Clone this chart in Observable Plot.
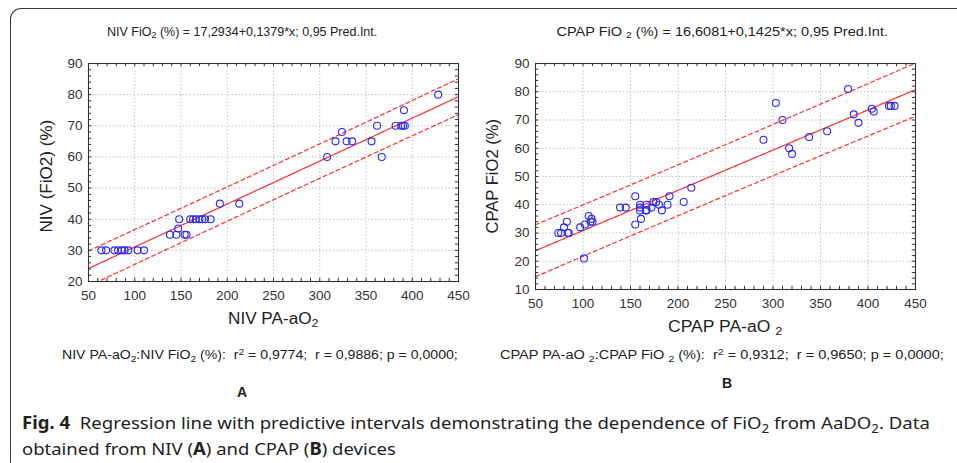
<!DOCTYPE html>
<html><head><meta charset="utf-8">
<script src="https://cdn.jsdelivr.net/npm/d3@7"></script>
<script src="https://cdn.jsdelivr.net/npm/@observablehq/plot@0.6"></script>
<style>
body{margin:0;background:#fff;overflow:hidden}
#root{position:relative;width:957px;height:463px;overflow:hidden;font-family:"Liberation Sans",Arial,sans-serif;color:#222;background:#fff}
.t{position:absolute;white-space:nowrap;left:0;top:0;transform-origin:0 0;line-height:1.15}
sub{font-size:0.72em;vertical-align:-0.3em;line-height:0}
sup{font-size:0.72em;vertical-align:0.45em;line-height:0}
#border{position:absolute;left:10px;top:8px;width:990px;height:520px;border-top:1.4px solid #3a3a3a;border-left:1.4px solid #3a3a3a;border-top-left-radius:11px}
</style></head><body><div id="root"><div id="border"></div></div>
<script>
// ---- data ----
const nivX = [64,69,78,82,86,89,93,103,110, 138,145,154,156, 147, 148,160,163,166,170,173,176,182, 192,213, 308,367, 317,329,335,356, 324, 362,382,388,390,392, 391, 428];
const nivY = [30,30,30,30,30,30,30,30,30, 35,35,35,35, 37, 40,40,40,40,40,40,40,40, 45,45, 60,60, 65,65,65,65, 68, 70,70,70,70,70, 75, 80];
const cpapX = [74,77,80,83,84,85,97,102,101,106,108,110,109, 139,145,155,155,160,160,160,161,166,167,167,172,174,177,180,183,189,191,206,214, 290,303,310,317,320,338,357,379,385,390,404,406,422,424,428];
const cpapY = [30,30,32,34,30,30,32,33,21,36,34,34,35, 39,39,43,33,40,39,38,35,38,40,38,39,41,41,40,38,40,43,41,46, 63,76,70,60,58,64,66,81,72,69,74,73,75,75,75];
const nivCoef = [17.2934, 0.1379];
const cpapCoef = [16.6081, 0.1425];
const xTicks = [50,100,150,200,250,300,350,400,450];
const nivYTicks = [20,30,40,50,60,70,80,90];
const cpapYTicks = [10,20,30,40,50,60,70,80,90];

const root = document.getElementById("root");

function tq(df){const z=1.959964;return z+(z**3+z)/(4*df)+(5*z**5+16*z**3+3*z)/(96*df*df);}

function panel({xs, ys, coef, yTicks, left, width, frame}){
  const [a,b] = coef;
  const n = xs.length, xbar = d3.mean(xs);
  const sxx = d3.sum(xs, x => (x-xbar)**2);
  const sse = d3.sum(xs, (x,i) => (ys[i]-(a+b*x))**2);
  const s = Math.sqrt(sse/(n-2)), t = tq(n-2);
  const xd = [xTicks[0], xTicks[xTicks.length-1]];
  const yd = [yTicks[0], yTicks[yTicks.length-1]];
  const fit = d3.range(xd[0], xd[1]+0.01, 2).map(x => {
    const yh = a+b*x, hw = t*s*Math.sqrt(1+1/n+(x-xbar)**2/sxx);
    return {x, y:yh, lo:yh-hw, hi:yh+hw};
  });
  const pts = xs.map((x,i)=>({x, y:ys[i]}));
  const [fx0, fy0, fx1, fy1] = frame; // frame in page px
  const ml = fx0-left, mr = left+width-fx1, mt = fy0, H = 345, mb = H-fy1;
  const ppx = (fx1-fx0)/(xd[1]-xd[0]), ppy = (fy1-fy0)/(yd[1]-yd[0]);
  const lenY = 3.2/ppy, lenX = 3.2/ppx;
  const xMinor = d3.range(xd[0], xd[1]+0.01, 10);
  const yMinor = d3.range(yd[0], yd[1]+0.01, 2);
  const tickStyle = {stroke:"#333", strokeWidth:1};
  const svg = Plot.plot({
    width, height:H, marginLeft:ml, marginRight:mr, marginTop:mt, marginBottom:mb,
    style:{position:"absolute", left:left+"px", top:"0px", background:"transparent", overflow:"visible", fontFamily:"'Liberation Sans', Arial, sans-serif", fontSize:"13.5px", color:"#333"},
    x:{domain:xd}, y:{domain:yd},
    marks:[
      Plot.gridX(xTicks.slice(1,-1), {stroke:"#aaa", strokeOpacity:0.7, strokeDasharray:"1.5,2"}),
      Plot.gridY(yTicks.slice(1,-1), {stroke:"#aaa", strokeOpacity:0.7, strokeDasharray:"1.5,2"}),
      Plot.line(fit, {x:"x", y:"hi", stroke:"#ff3030", strokeWidth:1.2, strokeDasharray:"4,3", clip:true}),
      Plot.line(fit, {x:"x", y:"lo", stroke:"#ff3030", strokeWidth:1.2, strokeDasharray:"4,3", clip:true}),
      Plot.line(fit, {x:"x", y:"y", stroke:"#ff3030", strokeWidth:1.2, clip:true}),
      Plot.dot(pts, {x:"x", y:"y", r:3.5, stroke:"#2a2aff", strokeWidth:1.1, fill:"none"}),
      Plot.ruleX(xMinor, {x:d=>d, y1:yd[0], y2:yd[0]+lenY, ...tickStyle}),
      Plot.ruleX(xMinor, {x:d=>d, y1:yd[1]-lenY, y2:yd[1], ...tickStyle}),
      Plot.ruleY(yMinor, {y:d=>d, x1:xd[0], x2:xd[0]+lenX, ...tickStyle}),
      Plot.ruleY(yMinor, {y:d=>d, x1:xd[1]-lenX, x2:xd[1], ...tickStyle}),
      Plot.frame({stroke:"#333", strokeWidth:1.1}),
      Plot.axisX(xTicks, {tickSize:0, tickPadding:9, label:null, fill:"#333", fontSize:13.5}),
      Plot.axisY(yTicks, {tickSize:0, tickPadding:6, label:null, fill:"#333", fontSize:13.5})
    ]
  });
  root.appendChild(svg);
}

panel({xs:nivX, ys:nivY, coef:nivCoef, yTicks:nivYTicks, left:0, width:480, frame:[88,63,458,281]});
panel({xs:cpapX, ys:cpapY, coef:cpapCoef, yTicks:cpapYTicks, left:480, width:477, frame:[535,63,915,289]});

function addText(html, cx, cy, w, {size=13, family="'Liberation Sans', Arial, sans-serif", weight="normal", rotate=0, color="#222", leftAlign=null}={}){
  const el = document.createElement("div");
  el.className = "t";
  el.innerHTML = html;
  el.style.fontSize = size+"px"; el.style.fontFamily = family; el.style.fontWeight = weight; el.style.color = color;
  root.appendChild(el);
  const W = el.offsetWidth, Hh = el.offsetHeight;
  const sx = w ? w/W : 1;
  const ww = W*sx;
  if (leftAlign !== null) cx = leftAlign + ww/2;
  el.style.transform = `translate(${cx}px,${cy}px) rotate(${rotate}deg) scale(${sx},1) translate(${-W/2}px,${-Hh/2}px)`;
}

addText("NIV FiO<sub>2</sub> (%) = 17,2934+0,1379*x; 0,95 Pred.Int.", 242, 32, 270, {size:13});
addText("CPAP FiO <sub>2</sub> (%) = 16,6081+0,1425*x; 0,95 Pred.Int.", 722, 32, 331, {size:13});
addText("NIV (FiO2) (%)", 47, 176, 113, {size:16, rotate:-90});
addText("CPAP FiO2 (%)", 493, 176, 115, {size:16, rotate:-90});
addText("NIV PA-aO<sub>2</sub>", 273, 319, 90, {size:16});
addText("CPAP PA-aO <sub>2</sub>", 725, 327, 114, {size:16});
addText("NIV PA-aO<sub>2</sub>:NIV FiO<sub>2</sub> (%):&nbsp; r<sup>2</sup> = 0,9774;&nbsp; r = 0,9886; p = 0,0000;", 260, 355, 396, {size:12.5});
addText("CPAP PA-aO <sub>2</sub>:CPAP FiO <sub>2</sub> (%):&nbsp; r<sup>2</sup> = 0,9312;&nbsp; r = 0,9650; p = 0,0000;", 722, 355, 444, {size:12.5});
addText("A", 242, 392, null, {size:14, weight:"bold"});
addText("B", 727, 383, null, {size:14, weight:"bold"});
addText("<b>Fig. 4</b>&nbsp; Regression line with predictive intervals demonstrating the dependence of FiO<sub>2</sub> from AaDO<sub>2</sub>. Data", 0, 423, 908, {size:17, family:"'Noto Sans', sans-serif", leftAlign:22});
addText("obtained from NIV (<b>A</b>) and CPAP (<b>B</b>) devices", 0, 449, 374, {size:17, family:"'Noto Sans', sans-serif", leftAlign:22});
</script></body></html>
